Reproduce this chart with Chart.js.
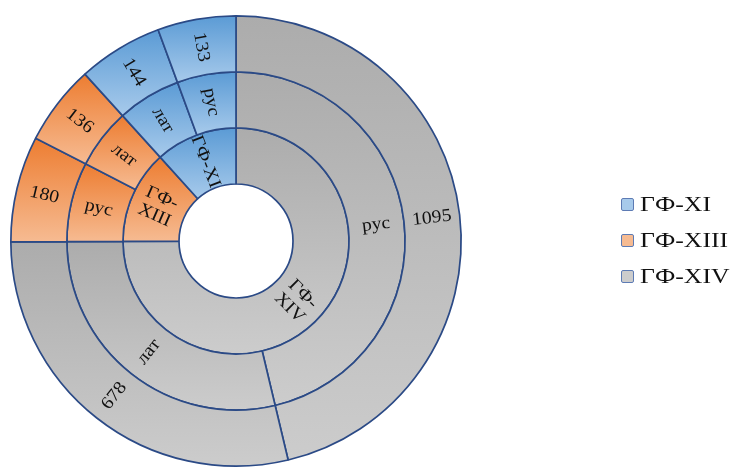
<!DOCTYPE html>
<html>
<head>
<meta charset="utf-8">
<script src="https://cdn.jsdelivr.net/npm/chart.js@4.4.1/dist/chart.umd.min.js"></script>
<style>
  html, body { margin: 0; padding: 0; background: #ffffff; }
  #wrap { position: relative; width: 733px; height: 468px; overflow: hidden; }
  #chart { position: absolute; left: 0; top: 0; }
  #legend { position: absolute; left: 621px; top: 190px; font-family: "Liberation Serif", "Times New Roman", serif; font-size: 22px; color: #111; }
  .row { position: absolute; left: 0; height: 28px; display: flex; align-items: center; white-space: nowrap; }
  .sw { width: 11px; height: 11px; border: 1px solid #5d7bb4; border-radius: 2px; margin-right: 6px; }
  .tx { display: inline-block; transform: scaleX(1.17); transform-origin: left center; }
</style>
</head>
<body>
<div id="wrap">
  <canvas id="chart" width="733" height="468"></canvas>
  <div id="legend"></div>
</div>
<script>
// Groups (legend order) and their colour ramps (top -> bottom of each segment)
const groupNames = ['ГФ-XI', 'ГФ-XIII', 'ГФ-XIV'];
const groupTop    = ['#5b9bd5', '#ed7d31', '#acacac'];
const groupBottom = ['#a7caeb', '#f6bb92', '#cccccc'];

// Leaves, listed clockwise from 12 o'clock
const leafGroup  = ['ГФ-XIV', 'ГФ-XIV', 'ГФ-XIII', 'ГФ-XIII', 'ГФ-XI', 'ГФ-XI'];
const leafScript = ['рус', 'лат', 'рус', 'лат', 'лат', 'рус'];
const leafCount  = [1095, 678, 180, 136, 144, 133];

// Inner ring: one segment per group, in the same clockwise order
const innerGroups = ['ГФ-XIV', 'ГФ-XIII', 'ГФ-XI'];
const innerTotals = innerGroups.map(g =>
  leafCount.reduce((s, v, i) => s + (leafGroup[i] === g ? v : 0), 0));

const labelFont = '18px "Liberation Serif", "Times New Roman", serif';
const labelStretch = 1.1;
const lineColor = '#2b4a86';

// Vertical gradient spanning the bounding box of an annular sector
function sectorFill(ctx, groupName) {
  const gi = groupNames.indexOf(groupName);
  const el = ctx.element;
  if (!el || !el.outerRadius || el.x === undefined) return groupTop[gi];
  const {x, y, startAngle, endAngle, innerRadius, outerRadius} = el;
  let minY = Infinity, maxY = -Infinity;
  for (const a of [startAngle, endAngle]) {
    for (const r of [innerRadius, outerRadius]) {
      const py = y + r * Math.sin(a);
      minY = Math.min(minY, py); maxY = Math.max(maxY, py);
    }
  }
  const twoPi = Math.PI * 2;
  for (const k of [-Math.PI / 2, Math.PI / 2]) {
    for (let a = k - 2 * twoPi; a <= endAngle; a += twoPi) {
      if (a >= startAngle && a <= endAngle) {
        const py = y + outerRadius * Math.sin(a);
        minY = Math.min(minY, py); maxY = Math.max(maxY, py);
      }
    }
  }
  const g = ctx.chart.ctx.createLinearGradient(0, minY, 0, maxY);
  g.addColorStop(0, groupTop[gi]);
  g.addColorStop(1, groupBottom[gi]);
  return g;
}

// Rotated labels placed in the middle of every segment, along the radius
const segmentLabels = {
  id: 'segmentLabels',
  afterDatasetsDraw(chart) {
    const c = chart.ctx;
    c.save();
    c.font = labelFont;
    c.fillStyle = '#111111';
    c.textAlign = 'center';
    c.textBaseline = 'middle';
    chart.data.datasets.forEach((ds, di) => {
      const meta = chart.getDatasetMeta(di);
      meta.data.forEach((arc, i) => {
        const text = String(ds.segmentText[i]);
        const p = arc.getCenterPoint();
        let mid = (arc.startAngle + arc.endAngle) / 2;
        mid = Math.atan2(Math.sin(mid), Math.cos(mid));
        if (mid > Math.PI / 2) mid -= Math.PI;
        if (mid < -Math.PI / 2) mid += Math.PI;
        const room = arc.outerRadius - arc.innerRadius + 2;
        let lines = [text];
        if (c.measureText(text).width * labelStretch > room && text.includes('-')) {
          const k = text.indexOf('-') + 1;
          lines = [text.slice(0, k), text.slice(k)];
        }
        const lh = 19;
        c.save();
        c.translate(p.x, p.y);
        c.rotate(mid);
        c.scale(labelStretch, 1);
        lines.forEach((ln, li) => {
          c.fillText(ln, 0, (li - (lines.length - 1) / 2) * lh);
        });
        c.restore();
      });
    });
    c.restore();
  }
};

const chart = new Chart(document.getElementById('chart'), {
  type: 'doughnut',
  data: {
    labels: leafScript,
    datasets: [
      {
        data: leafCount,
        segmentText: leafCount,
        backgroundColor: c => sectorFill(c, leafGroup[c.dataIndex])
      },
      {
        data: leafCount,
        segmentText: leafScript,
        backgroundColor: c => sectorFill(c, leafGroup[c.dataIndex])
      },
      {
        data: innerTotals,
        segmentText: innerGroups,
        backgroundColor: c => sectorFill(c, innerGroups[c.dataIndex])
      }
    ]
  },
  options: {
    responsive: false,
    animation: false,
    cutout: 57,
    rotation: 0,
    layout: { padding: { left: 10, right: 271, top: 15, bottom: 1 } },
    elements: { arc: { borderColor: lineColor, borderWidth: 1.7, borderAlign: 'center' } },
    plugins: { legend: { display: false }, tooltip: { enabled: false } }
  },
  plugins: [segmentLabels]
});
chart.update();

// Legend
const legend = document.getElementById('legend');
groupNames.forEach((name, i) => {
  const row = document.createElement('div');
  row.className = 'row';
  row.style.top = (i * 36) + 'px';
  const sw = document.createElement('div');
  sw.className = 'sw';
  sw.style.background = 'linear-gradient(' + groupBottom[i] + ',' + groupBottom[i] + ')';
  const tx = document.createElement('span');
  tx.className = 'tx';
  tx.textContent = name;
  row.appendChild(sw);
  row.appendChild(tx);
  legend.appendChild(row);
});
</script>
</body>
</html>
